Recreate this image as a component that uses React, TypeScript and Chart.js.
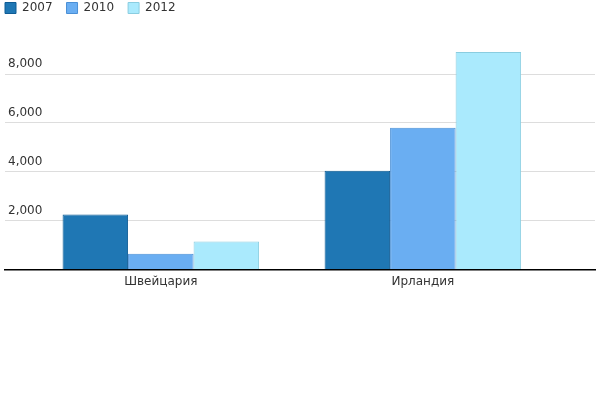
import React, { useEffect, useRef } from "react";
import { Chart, registerables } from "chart.js";

Chart.register(...registerables);

const categories = ["Швейцария", "Ирландия"];
const seriesLabels = ["2007", "2010", "2012"];
const values2007 = [2250, 4040];
const values2010 = [650, 5800];
const values2012 = [1150, 8900];
const yTicks = [0, 2000, 4000, 6000, 8000];

const fills = ["#1F77B4", "#6AAEF2", "#AAEAFD"];
const borders = ["#0F5C95", "#4A8FD6", "#8ACDE0"];

export default function App() {
  const ref = useRef<HTMLCanvasElement | null>(null);

  useEffect(() => {
    if (!ref.current) return;
    const series = [values2007, values2010, values2012];
    const chart = new Chart(ref.current, {
      type: "bar",
      data: {
        datasets: series.map((vals, si) => ({
          label: seriesLabels[si],
          data: categories.map((_, i) => ({ x: i, y: vals[i] })),
          backgroundColor: fills[si],
          borderColor: borders[si],
          borderWidth: 1,
          categoryPercentage: 0.75,
          barPercentage: 1,
        })),
      },
      options: {
        responsive: false,
        animation: false,
        layout: { padding: { left: -9, right: 5, top: -12, bottom: 106 } },
        plugins: {
          legend: {
            position: "top",
            align: "start",
            labels: {
              boxWidth: 11,
              boxHeight: 11,
              padding: 14,
              color: "#333",
              font: { family: "'DejaVu Sans'", size: 12 },
            },
          },
          tooltip: { enabled: false },
        },
        scales: {
          x: {
            type: "linear",
            min: -0.5947,
            max: 1.657,
            bounds: "data",
            offset: false,
            afterBuildTicks: (s: any) => {
              s.ticks = categories.map((_, i) => ({ value: i }));
            },
            grid: { display: false, drawTicks: false, offset: false },
            border: { display: true, color: "#000", width: 1.5, z: 1 },
            ticks: {
              autoSkip: false,
              maxRotation: 0,
              padding: 5,
              color: "#333",
              font: { family: "'DejaVu Sans'", size: 12 },
              callback: (v: any) => categories[Math.round(Number(v))] ?? "",
            },
          },
          y: {
            type: "linear",
            min: 0,
            max: 10050,
            bounds: "data",
            afterFit: (s: any) => {
              s.width = 14;
            },
            afterBuildTicks: (s: any) => {
              s.ticks = yTicks.map((v) => ({ value: v }));
            },
            grid: {
              drawTicks: false,
              color: (c: any) => (c.tick && c.tick.value === 0 ? "rgba(0,0,0,0)" : "#DDDDDD"),
            },
            border: { display: false },
            ticks: {
              autoSkip: false,
              mirror: true,
              padding: 3,
              labelOffset: -10,
              color: "#333",
              font: { family: "'DejaVu Sans'", size: 12 },
              callback: (v: any) => (Number(v) === 0 ? "" : Number(v).toLocaleString("en-US")),
            },
          },
        },
      },
    });
    return () => chart.destroy();
  }, []);

  return (
    <div style={{ position: "fixed", left: 0, top: 0, width: 600, height: 400, background: "#fff" }}>
      <canvas ref={ref} width={600} height={400} style={{ display: "block" }} />
    </div>
  );
}
